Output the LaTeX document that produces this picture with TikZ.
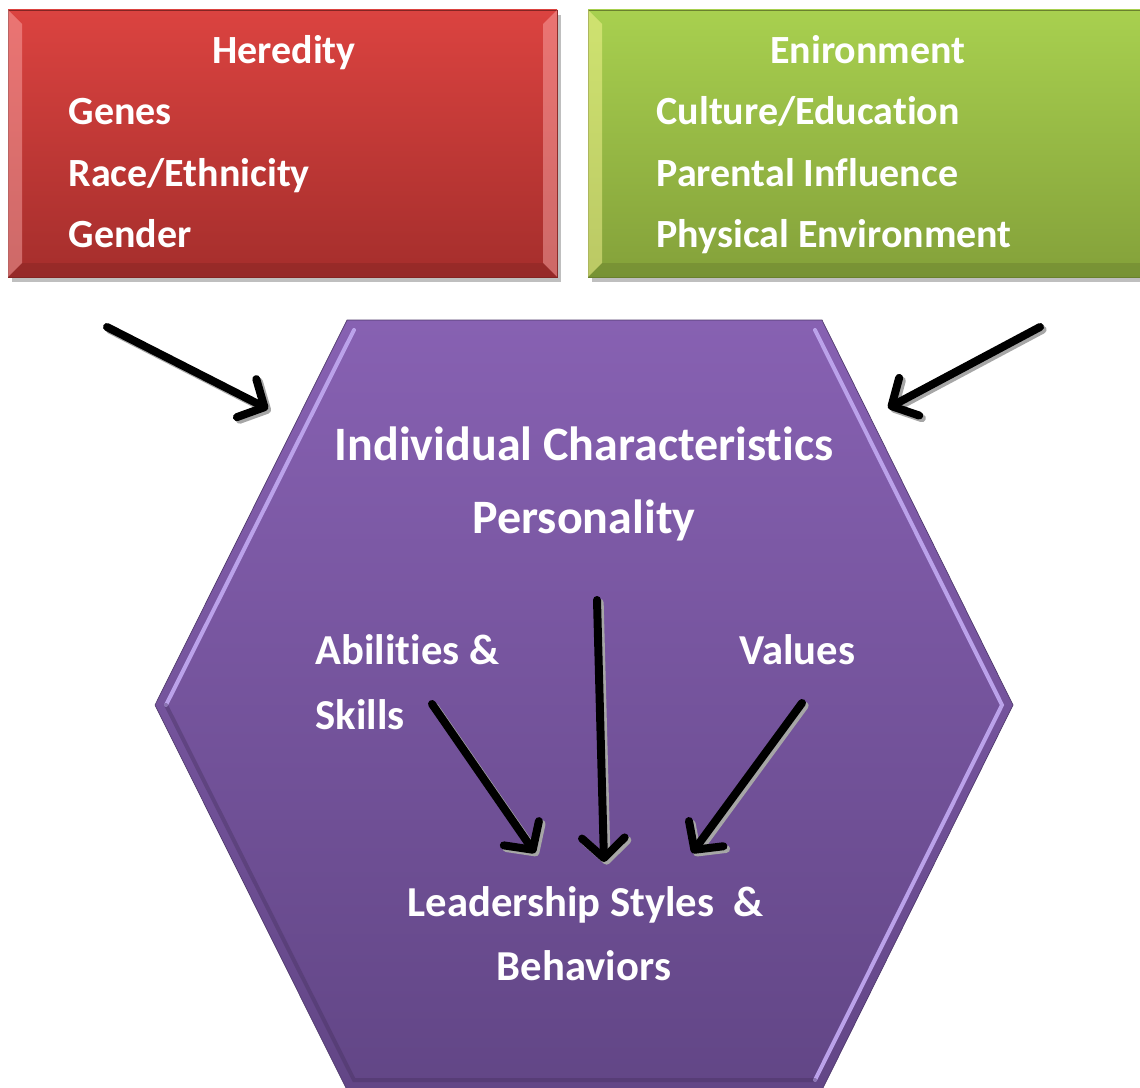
\documentclass[tikz,border=0pt]{standalone}
\usepackage{fontspec}
\setmainfont{Carlito}[Ligatures=NoCommon]
\usetikzlibrary{arrows.meta}

\definecolor{redtop}{HTML}{DB4340}
\definecolor{redbot}{HTML}{A52E2C}
\definecolor{greentop}{HTML}{A8D04F}
\definecolor{greenbot}{HTML}{84A13A}
\definecolor{hextop}{HTML}{8761B2}
\definecolor{hexbot}{HTML}{624686}
\definecolor{hexlight}{HTML}{BBA2EA}

\begin{document}
\begin{tikzpicture}[x=0.75pt,y=-0.75pt,thick,
  boxtext/.style={text=white,inner sep=0,font=\bfseries\fontsize{30}{36}\selectfont},
  subtext/.style={text=white,inner sep=0,font=\bfseries\fontsize{32}{38}\selectfont},
  hextext/.style={text=white,inner sep=0,font=\bfseries\fontsize{36}{43}\selectfont},
  fatarrow/.style={line width=6pt,line cap=round,line join=round,-{Straight Barb[length=15pt,width=32pt,line width=6pt,round]}},
  arrowshadow/.style={fatarrow,black!35}]

\useasboundingbox (0,0) rectangle (1140,1088);

\begin{scope}

\clip (0,0) rectangle (1140,1088);

\fill [black!25] (12,15) rectangle (561,282);
\shade [top color=redtop,bottom color=redbot,draw=redbot!80!black,line width=0.5pt] (8,10) rectangle (557,277);
\fill [red!30!white,opacity=.45] (8,10) -- (22,24) -- (22,263) -- (8,277) -- cycle;
\fill [red!30!white,opacity=.45] (557,10) -- (543,24) -- (543,263) -- (557,277) -- cycle;
\fill [redbot!70!black,opacity=.3] (8,277) -- (22,263) -- (543,263) -- (557,277) -- cycle;

\fill [black!25] (592,15) rectangle (1150,282);
\shade [top color=greentop,bottom color=greenbot,draw=greenbot!80!black,line width=0.5pt] (588,10) rectangle (1150,277);
\fill [yellow!40!white,opacity=.45] (588,10) -- (602,24) -- (602,263) -- (588,277) -- cycle;
\fill [greenbot!70!black,opacity=.3] (588,277) -- (602,263) -- (1150,263) -- (1150,277) -- cycle;

\shade [top color=hextop,bottom color=hexbot,draw=hexbot!80!black,line width=0.5pt] (347,320) -- (822,320) -- (1013,705) -- (822,1090) -- (347,1090) -- (155,705) -- cycle;
\draw [hexlight,line width=3pt,line cap=round] (166,705) -- (354,330);
\draw [hexlight,line width=3pt,line cap=round] (815,330) -- (1002,705) -- (815,1080);
\draw [hexbot!70!black,line width=3pt,opacity=.4,line cap=round] (166,705) -- (354,1080) -- (815,1080);

\end{scope}

\node [boxtext,anchor=base] (heredity) at (284,64) {Heredity};
\node [boxtext,anchor=base west] (genes) at (68,125) {Genes};
\node [boxtext,anchor=base west] (race) at (68,186) {Race/Ethnicity};
\node [boxtext,anchor=base west] (gender) at (68,247) {Gender};

\node [boxtext,anchor=base] (enironment) at (868,64) {Enironment};
\node [boxtext,anchor=base west] (culture) at (656,125) {Culture/Education};
\node [boxtext,anchor=base west] (parental) at (656,186) {Parental Influence};
\node [boxtext,anchor=base west] (physical) at (656,247) {Physical Environment};

\node [hextext,anchor=base] (individual) at (584,460) {Individual Characteristics};
\node [hextext,anchor=base] (personality) at (584,533) {Personality};
\node [subtext,anchor=base west] (abilities) at (315,664) {Abilities \&};
\node [subtext,anchor=base west] (skills) at (315,729) {Skills};
\node [subtext,anchor=base west] (values) at (739,664) {Values};
\node [subtext,anchor=base west] (leadership) at (407,916) {Leadership Styles~~\&};
\node [subtext,anchor=base] (behaviors) at (584,980) {Behaviors};

\coordinate (h1) at (107,327);
\coordinate (h2) at (268,409);
\coordinate (e1) at (1040,327);
\coordinate (e2) at (888,408);
\coordinate (p1) at (597,600);
\coordinate (p2) at (604,862);
\coordinate (a1) at (432,704);
\coordinate (a2) at (535,853);
\coordinate (v1) at (802,703);
\coordinate (v2) at (692,853);

\foreach \a/\b in {h1/h2,e1/e2,p1/p2,a1/a2,v1/v2} {
  \draw [arrowshadow] ([xshift=2pt,yshift=-2pt]\a) -- ([xshift=2pt,yshift=-2pt]\b);
  \draw [fatarrow] (\a) -- (\b);
}

\end{tikzpicture}
\end{document}
